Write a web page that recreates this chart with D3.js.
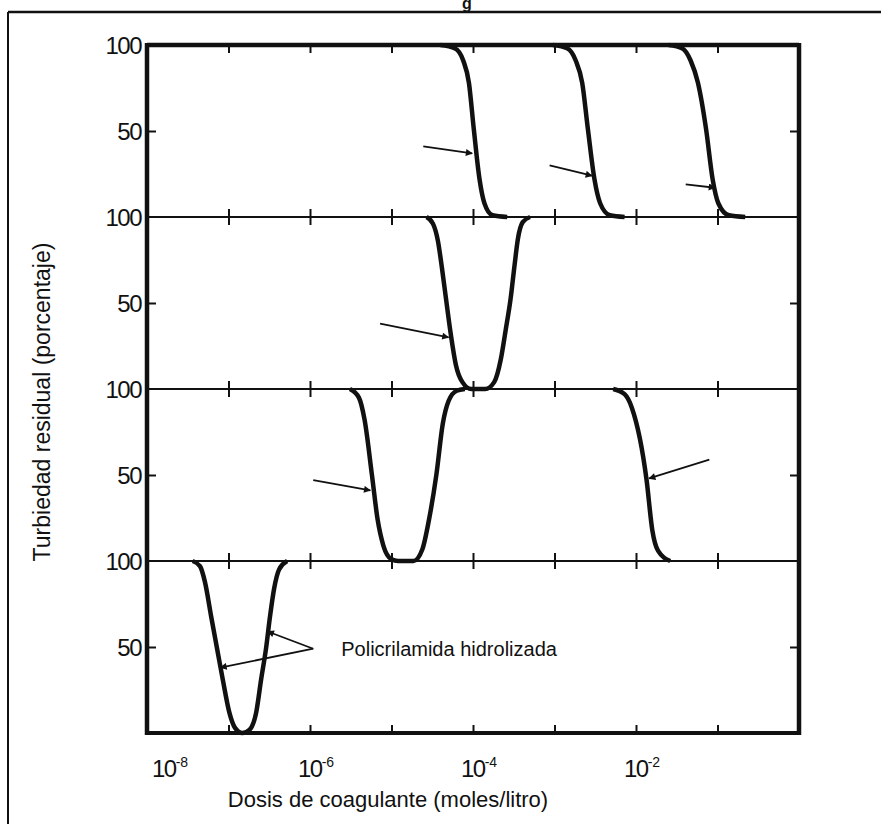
<!DOCTYPE html>
<html>
<head>
<meta charset="utf-8">
<script src="https://cdnjs.cloudflare.com/ajax/libs/d3/7.8.5/d3.min.js"></script>
<style>
body { margin: 0; background: #fff; }
svg text { font-family: "Liberation Sans", Arial, sans-serif; fill: #111; }
</style>
</head>
<body>
<div id="chart"></div>
<script>
// Data: dose given as log10(moles/litro), turbidity as percent
var xTickExp = [-8, -7, -6, -5, -4, -3, -2, -1, 0];
var xLabelExp = [-8, -6, -4, -2];
var yTickLabels = [100, 50];

// panel 1: three steep drops
var p1a = [[-4.40,100],[-4.22,98],[-4.12,91],[-4.05,78],[-3.99,51],[-3.92,22],[-3.86,8],[-3.76,1],[-3.58,0]];
var p1b = [[-3.02,100],[-2.84,98],[-2.74,91],[-2.66,78],[-2.59,51],[-2.51,22],[-2.44,8],[-2.32,1],[-2.14,0]];
var p1c = [[-1.60,100],[-1.43,98],[-1.33,91],[-1.24,78],[-1.14,51],[-1.06,22],[-0.99,8],[-0.86,1],[-0.66,0]];
// panel 2: one V
var p2a = [[-4.57,100],[-4.49,96],[-4.43,86],[-4.38,70],[-4.33,52],[-4.27,31],[-4.21,14],[-4.13,4],[-4.02,0],[-3.85,0],[-3.74,4],[-3.66,17],[-3.60,34],[-3.54,52],[-3.49,72],[-3.45,87],[-3.39,97],[-3.30,100]];
// panel 3: V and a second drop
var p3a = [[-5.51,100],[-5.40,95],[-5.33,82],[-5.24,50],[-5.17,24],[-5.10,9],[-5.00,1],[-4.92,0],[-4.73,0],[-4.62,7],[-4.54,24],[-4.45,50],[-4.37,80],[-4.30,93],[-4.20,99],[-4.10,100]];
var p3b = [[-2.28,100],[-2.14,97],[-2.05,89],[-1.87,47],[-1.80,18],[-1.73,6],[-1.58,0]];
// panel 4: narrow V
var p4a = [[-7.44,100],[-7.35,97],[-7.29,88],[-7.21,67],[-7.14,49],[-7.07,31],[-6.99,12],[-6.92,3],[-6.83,0],[-6.74,2],[-6.66,12],[-6.60,31],[-6.54,49],[-6.49,68],[-6.44,84],[-6.38,95],[-6.28,100]];

var panels = [[p1a, p1b, p1c], [p2a], [p3a, p3b], [p4a]];

// arrows: [fromExp, fromPct, toExp, toPct]
var arrows1 = [[-4.61,41,-4.01,37],[-3.06,30,-2.54,24],[-1.39,19,-1.03,17]];
var arrows2 = [[-5.14,38,-4.30,30]];
var arrows3 = [[-5.96,47,-5.26,41],[-1.10,59,-1.84,48]];
var arrows4 = [[-5.96,49,-7.10,38],[-5.96,49,-6.52,59]];
var panelArrows = [arrows1, arrows2, arrows3, arrows4];

var noteText = "Policrilamida hidrolizada";
var xTitle = "Dosis de coagulante (moles/litro)";
var yTitle = "Turbiedad residual (porcentaje)";

var W = 881, H = 824;
var pLeft = 147, pRight = 799, pTop = 45, pBottom = 733;
var ph = (pBottom - pTop) / panels.length;

var svg = d3.select("#chart").append("svg").attr("width", W).attr("height", H);

svg.append("defs").append("marker")
	.attr("id", "head")
	.attr("viewBox", "0 0 10 10")
	.attr("refX", 9).attr("refY", 5)
	.attr("markerWidth", 9).attr("markerHeight", 7)
	.attr("markerUnits", "userSpaceOnUse")
	.attr("orient", "auto")
	.append("path").attr("d", "M0,0L10,5L0,10Z").attr("fill", "#111");

var x = d3.scaleLog().domain([1e-8, 1]).range([pLeft, pRight]);
var ex = function(e) { return x(Math.pow(10, e)); };

// outer frame of the scan, with the leftover of the heading
svg.append("line").attr("x1", 8).attr("x2", W).attr("y1", 12).attr("y2", 12).attr("stroke", "#111").attr("stroke-width", 2.5);
svg.append("line").attr("x1", 8).attr("x2", 8).attr("y1", 12).attr("y2", H).attr("stroke", "#111").attr("stroke-width", 2);
svg.append("text").attr("x", 467).attr("y", 9).attr("text-anchor", "middle").attr("font-size", 16).attr("font-weight", "bold").text("g");

panels.forEach(function(curves, i) {
	var y0 = pTop + i * ph;
	var y = d3.scaleLinear().domain([0, 100]).range([y0 + ph, y0]);
	var g = svg.append("g");

	var line = d3.line()
		.x(function(d) { return ex(d[0]); })
		.y(function(d) { return y(d[1]); })
		.curve(d3.curveMonotoneX);

	curves.forEach(function(c) {
		g.append("path").attr("d", line(c)).attr("fill", "none")
			.attr("stroke", "#111").attr("stroke-width", 4.5).attr("stroke-linejoin", "round");
	});

	// y labels on the left
	g.append("g").attr("transform", "translate(" + (pLeft - 4) + ",0)")
		.call(d3.axisLeft(y).tickValues(yTickLabels).tickSize(0).tickPadding(2))
		.call(function(a) {
			a.select(".domain").remove();
			a.selectAll("text").attr("font-size", 24).attr("dy", "0.35em")
				.style("font-family", "'Liberation Sans', Arial, sans-serif").attr("letter-spacing", -1.5).attr("fill", "#111");
		});
	// inward 50 ticks, both sides
	g.append("g").attr("transform", "translate(" + pLeft + ",0)")
		.call(d3.axisRight(y).tickValues([50]).tickSize(9).tickFormat(""))
		.call(function(a) { a.select(".domain").remove(); a.selectAll("line").attr("stroke", "#111").attr("stroke-width", 2); });
	g.append("g").attr("transform", "translate(" + pRight + ",0)")
		.call(d3.axisLeft(y).tickValues([50]).tickSize(9).tickFormat(""))
		.call(function(a) { a.select(".domain").remove(); a.selectAll("line").attr("stroke", "#111").attr("stroke-width", 2); });

	// arrows
	panelArrows[i].forEach(function(a) {
		g.append("line")
			.attr("x1", ex(a[0])).attr("y1", y(a[1]))
			.attr("x2", ex(a[2])).attr("y2", y(a[3]))
			.attr("stroke", "#111").attr("stroke-width", 1.8)
			.attr("marker-end", "url(#head)");
	});

	if (i == 3) {
		g.append("text").attr("x", ex(-5.96) + 28).attr("y", y(49)).attr("dy", "0.35em")
			.attr("font-size", 20).text(noteText);
	}
});

// horizontal borders with decade ticks
var tickAxis = function(yPos, down, up, width) {
	svg.append("line").attr("x1", pLeft).attr("x2", pRight).attr("y1", yPos).attr("y2", yPos)
		.attr("stroke", "#111").attr("stroke-width", width);
	var vals = xTickExp.map(function(e) { return Math.pow(10, e); });
	if (down) {
		svg.append("g").attr("transform", "translate(0," + yPos + ")")
			.call(d3.axisBottom(x).tickValues(vals).tickSize(8).tickFormat(""))
			.call(function(a) { a.select(".domain").remove(); a.selectAll("line").attr("stroke", "#111").attr("stroke-width", 2); });
	}
	if (up) {
		svg.append("g").attr("transform", "translate(0," + yPos + ")")
			.call(d3.axisTop(x).tickValues(vals).tickSize(8).tickFormat(""))
			.call(function(a) { a.select(".domain").remove(); a.selectAll("line").attr("stroke", "#111").attr("stroke-width", 2); });
	}
};
tickAxis(pTop, true, false, 4.5);
for (var k = 1; k < panels.length; k++) tickAxis(pTop + k * ph, true, true, 2.2);
tickAxis(pBottom, false, true, 4);

// vertical borders
svg.append("line").attr("x1", pLeft).attr("x2", pLeft).attr("y1", pTop - 2).attr("y2", pBottom + 2).attr("stroke", "#111").attr("stroke-width", 4.5);
svg.append("line").attr("x1", pRight).attr("x2", pRight).attr("y1", pTop - 2).attr("y2", pBottom + 2).attr("stroke", "#111").attr("stroke-width", 4.5);

// x tick labels 10^n
xLabelExp.forEach(function(e, i) {
	var cx = ex(e) - 12;
	if (i == 0) cx = pLeft + 5;
	var t = svg.append("text").attr("x", cx).attr("y", 777).attr("font-size", 24).attr("letter-spacing", -1.5);
	t.append("tspan").text("10");
	t.append("tspan").attr("dy", -10).attr("font-size", 14).attr("letter-spacing", 0).text(String(e));
});

svg.append("text").attr("x", 388).attr("y", 807).attr("text-anchor", "middle").attr("font-size", 22).text(xTitle);
svg.append("text").attr("transform", "translate(50,402) rotate(-90)").attr("text-anchor", "middle")
	.attr("font-size", 23).text(yTitle);
</script>
</body>
</html>
